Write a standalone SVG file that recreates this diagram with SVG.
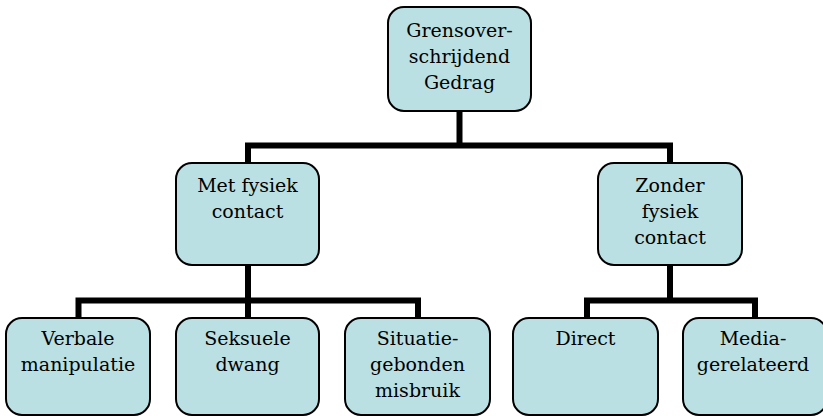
<svg xmlns="http://www.w3.org/2000/svg" width="823" height="418" viewBox="0 0 823 418">
<style>
.box{fill:#BBE0E3;stroke:#000;stroke-width:2}
.t{font-family:"DejaVu Serif","Liberation Serif",serif;font-size:19px;fill:#000;text-anchor:middle}
.c{fill:none;stroke:#000;stroke-width:6;stroke-linejoin:miter;stroke-linecap:butt}
</style>
<rect width="823" height="418" fill="#fff"/>
<g id="connectors">
<path class="c" d="M248,163 V145.5 H670 V163"/>
<path class="c" d="M459.5,111 V145.5"/>
<path class="c" d="M78.5,318 V300.5 H418 V318"/>
<path class="c" d="M248,265 V318"/>
<path class="c" d="M587,318 V300.5 H755 V318"/>
<path class="c" d="M670,265 V300.5"/>
</g>
<g id="n-grens">
<rect class="box" x="388" y="7" width="143" height="104" rx="16"/>
<text class="t" x="459.5" y="37">Grensover-</text>
<text class="t" x="459.5" y="63">schrijdend</text>
<text class="t" x="459.5" y="89">Gedrag</text>
</g>
<g id="n-met">
<rect class="box" x="176" y="163" width="143" height="102" rx="16"/>
<text class="t" x="247.5" y="192">Met fysiek</text>
<text class="t" x="247.5" y="218">contact</text>
</g>
<g id="n-zonder">
<rect class="box" x="598" y="163" width="144" height="102" rx="16"/>
<text class="t" x="670" y="192">Zonder</text>
<text class="t" x="670" y="218">fysiek</text>
<text class="t" x="670" y="244">contact</text>
</g>
<g id="n-verbale">
<rect class="box" x="6" y="318" width="144" height="97" rx="16"/>
<text class="t" x="78" y="345">Verbale</text>
<text class="t" x="78" y="371">manipulatie</text>
</g>
<g id="n-seksuele">
<rect class="box" x="176" y="318" width="143" height="97" rx="16"/>
<text class="t" x="247.5" y="345">Seksuele</text>
<text class="t" x="247.5" y="371">dwang</text>
</g>
<g id="n-situatie">
<rect class="box" x="345" y="318" width="145" height="97" rx="16"/>
<text class="t" x="417.5" y="345">Situatie-</text>
<text class="t" x="417.5" y="371">gebonden</text>
<text class="t" x="417.5" y="397">misbruik</text>
</g>
<g id="n-direct">
<rect class="box" x="513" y="318" width="145" height="97" rx="16"/>
<text class="t" x="585.5" y="345">Direct</text>
</g>
<g id="n-media">
<rect class="box" x="683" y="318" width="144" height="97" rx="16"/>
<text class="t" x="753" y="345">Media-</text>
<text class="t" x="753" y="371">gerelateerd</text>
</g>
</svg>
